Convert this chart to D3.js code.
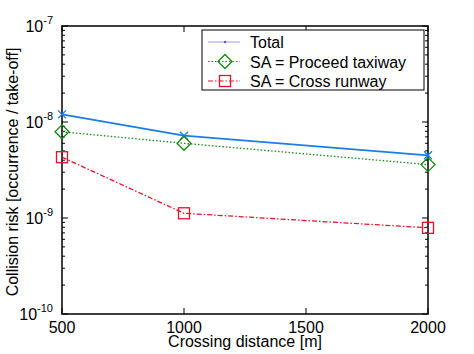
<!DOCTYPE html>
<html>
<head>
<meta charset="utf-8">
<script src="https://cdn.jsdelivr.net/npm/d3@7"></script>
<style>
body { margin: 0; background: #fff; }
svg text { font-family: "Liberation Sans", Arial, sans-serif; }
</style>
</head>
<body>
<svg width="474" height="354"></svg>
<script>
var distances = [500, 1000, 2000];
var total = [1.2e-8, 7.2e-9, 4.5e-9];
var proceedTaxiway = [7.9e-9, 6.0e-9, 3.6e-9];
var crossRunway = [4.3e-9, 1.12e-9, 7.9e-10];
var seriesNames = ['Total', 'SA = Proceed taxiway', 'SA = Cross runway'];
var xTicks = [500, 1000, 1500, 2000];
var yExps = [-10, -9, -8, -7];

var svg = d3.select('svg');
var margin = {left: 62, right: 46, top: 26, bottom: 40};
var width = 474, height = 354;
var innerWidth = width - margin.left - margin.right;
var innerHeight = height - margin.top - margin.bottom;

var xscale = d3.scaleLinear().domain([500, 2000]).range([0, innerWidth]);
var yscale = d3.scaleLog().domain([1e-10, 1e-7]).range([innerHeight, 0]);

var g = svg.append('g').attr('transform', `translate(${margin.left},${margin.top})`);

// minor log ticks
var minor = [];
for (var e = -10; e < -7; e++) for (var m = 2; m < 10; m++) minor.push(m * Math.pow(10, e));

function tickLine(sel, y, x0, len) {
	sel.append('line').attr('x1', x0).attr('x2', x0 + len).attr('y1', y).attr('y2', y)
		.attr('stroke', '#000').attr('stroke-width', 1);
}
minor.forEach(v => {
	tickLine(g, yscale(v), 0, 3);
	tickLine(g, yscale(v), innerWidth, -3);
});
yExps.forEach(e => {
	tickLine(g, yscale(Math.pow(10, e)), 0, 6);
	tickLine(g, yscale(Math.pow(10, e)), innerWidth, -6);
});
xTicks.forEach(v => {
	g.append('line').attr('x1', xscale(v)).attr('x2', xscale(v)).attr('y1', innerHeight).attr('y2', innerHeight - 6).attr('stroke', '#000');
	g.append('line').attr('x1', xscale(v)).attr('x2', xscale(v)).attr('y1', 0).attr('y2', 6).attr('stroke', '#000');
	g.append('text').attr('x', xscale(v)).attr('y', innerHeight + 19)
		.attr('text-anchor', 'middle').attr('font-size', 16).text(v);
});

// y tick labels 10^e
yExps.forEach(e => {
	var t = g.append('text').attr('x', -9).attr('y', yscale(Math.pow(10, e)) + 6)
		.attr('text-anchor', 'end').attr('font-size', 16);
	t.append('tspan').text('10');
	t.append('tspan').attr('font-size', 11).attr('dy', -8).text(e);
});

g.append('rect').attr('width', innerWidth).attr('height', innerHeight)
	.attr('fill', 'none').attr('stroke', '#000').attr('stroke-width', 1.5);

svg.append('text').attr('x', margin.left + innerWidth / 2).attr('y', 347)
	.attr('text-anchor', 'middle').attr('font-size', 16).text('Crossing distance [m]');
svg.append('text').attr('transform', `translate(18,${margin.top + innerHeight / 2 + 2}) rotate(-90)`)
	.attr('text-anchor', 'middle').attr('font-size', 16).text('Collision risk [occurrence / take-off]');

var series = [
	{name: seriesNames[0], values: total, color: '#1c7de6', dash: null, width: 1.8, marker: 'x'},
	{name: seriesNames[1], values: proceedTaxiway, color: '#108a10', dash: '1.5,2', width: 1.3, marker: 'diamond'},
	{name: seriesNames[2], values: crossRunway, color: '#e8102a', dash: '5,2,1.5,2', width: 1.3, marker: 'square'}
];

var line = d3.line().x(d => xscale(d[0])).y(d => yscale(d[1]));

function drawMarker(sel, type, x, y, color) {
	if (type === 'x') {
		sel.append('path').attr('d', `M${x-4},${y-4}L${x+4},${y+4}M${x-4},${y+4}L${x+4},${y-4}`)
			.attr('stroke', color).attr('stroke-width', 1.3);
	} else if (type === 'diamond') {
		sel.append('path').attr('d', `M${x},${y-7}L${x+7},${y}L${x},${y+7}L${x-7},${y}Z`)
			.attr('fill', 'none').attr('stroke', color).attr('stroke-width', 1.3);
	} else {
		sel.append('rect').attr('x', x - 5.5).attr('y', y - 5.5).attr('width', 11).attr('height', 11)
			.attr('fill', 'none').attr('stroke', color).attr('stroke-width', 1.3);
	}
}

series.forEach(s => {
	var pts = distances.map((d, i) => [d, s.values[i]]);
	g.append('path').datum(pts).attr('d', line).attr('fill', 'none')
		.attr('stroke', s.color).attr('stroke-width', s.width)
		.attr('stroke-dasharray', s.dash);
	pts.forEach(p => drawMarker(g, s.marker, xscale(p[0]), yscale(p[1]), s.color));
});

// legend
var lg = svg.append('g').attr('transform', 'translate(202,30)');
lg.append('rect').attr('width', 222).attr('height', 60).attr('fill', '#fff').attr('stroke', '#000').attr('stroke-width', 1);
series.forEach((s, i) => {
	var y = 12 + i * 19.5;
	var col = i === 0 ? '#9a9af0' : s.color;
	lg.append('line').attr('x1', 6).attr('x2', 38).attr('y1', y).attr('y2', y)
		.attr('stroke', col).attr('stroke-width', i === 0 ? 1 : 1.2).attr('stroke-dasharray', s.dash);
	if (i === 0) lg.append('circle').attr('cx', 23).attr('cy', y).attr('r', 1.2).attr('fill', '#5555dd');
	else drawMarker(lg, s.marker, 23, y, s.color);
	lg.append('text').attr('x', 48).attr('y', y + 6).attr('font-size', 16).text(s.name);
});
</script>
</body>
</html>
